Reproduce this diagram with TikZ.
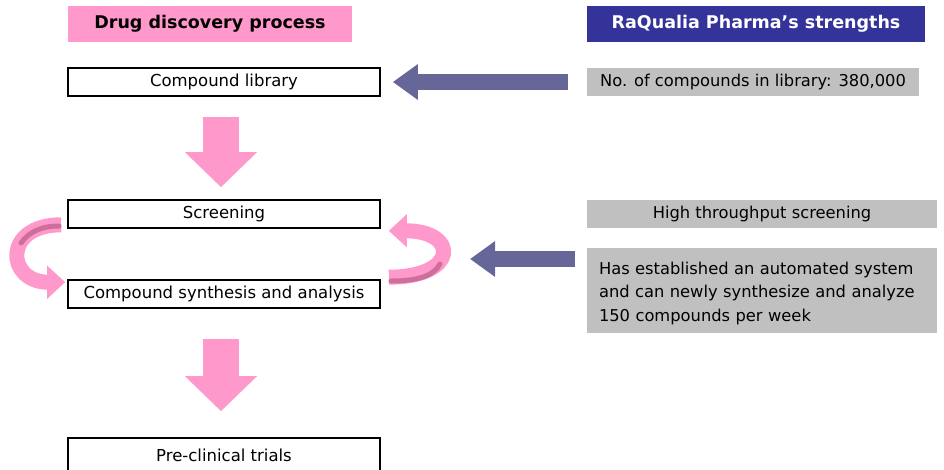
\documentclass[tikz,border=0pt]{standalone}
\usepackage{fontspec}
\setmainfont{DejaVu Sans}
\usetikzlibrary{arrows.meta,positioning}
\definecolor{hdpink}{RGB}{255,153,204}
\definecolor{hdblue}{RGB}{51,51,153}
\definecolor{arrblue}{RGB}{102,102,153}
\definecolor{boxgray}{RGB}{192,192,192}
\definecolor{bandpink}{RGB}{205,110,155}

\begin{document}
\begin{tikzpicture}[x=1pt,y=-1pt,
    hdbox/.style={minimum height=36pt,inner sep=0pt,font=\bfseries\fontsize{17.5}{20}\selectfont},
    stage/.style={draw,line width=1.6pt,minimum width=312pt,minimum height=28pt,inner sep=0pt,
      font=\fontsize{16.5}{18}\selectfont},
    factbox/.style={fill=boxgray,minimum height=28pt,inner sep=0pt,font=\fontsize{16.3}{23.5}\selectfont},
    downarr/.style={hdpink,line width=36pt,-{Triangle[length=35pt,width=70pt]}},
    leftarr/.style={arrblue,line width=16pt,-{Triangle[length=25pt,width=34pt]}},
    cyclearr/.style={hdpink,line width=15pt,-{Triangle[length=18pt,width=32pt]}},
    ribbon/.style={bandpink,line width=5pt,line cap=round}]
  \useasboundingbox (0,0) rectangle (944,469);
  % headers
  \node[hdbox,fill=hdpink,minimum width=284pt] (drug) at (210,24) {Drug discovery process};
  \node[hdbox,fill=hdblue,text=white,minimum width=338pt] (raq) at (756,24) {RaQualia Pharma’s strengths};
  % process
  \node[stage] (lib) at (224,82) {Compound library};
  \node[stage] (screen) at (224,214) {Screening};
  \node[stage] (synth) at (224,294) {Compound synthesis and analysis};
  \node[stage,minimum height=34pt] (preclin) at (224,455) {Pre-clinical trials};
  % strengths
  \node[factbox,minimum width=332pt] (libsize) at (753,82) {No. of compounds in library: 380,000};
  \node[factbox,minimum width=350pt] (hts) at (762,214) {High throughput screening};
  \node[factbox,minimum width=350pt,minimum height=85pt,text width=326pt,align=left] (auto) at (762,290.5)
    {\rule{0pt}{18pt}Has established an automated system\\and can newly synthesize and analyze\\150 compounds per week};
  % arrows
  \draw[downarr,shorten <=20pt,shorten >=12pt] ([xshift=-3pt]lib.south) -- ([xshift=-3pt]screen.north);
  \draw[downarr,shorten <=30pt,shorten >=26pt] ([xshift=-3pt]synth.south) -- ([xshift=-3pt]preclin.north);
  \draw[leftarr,shorten <=19pt,shorten >=12pt] (libsize) -- (lib);
  \coordinate (loopR) at (447,259);
  \draw[leftarr,shorten <=12pt,shorten >=23pt] (auto.west |- loopR) -- (loopR);
  % cycle
  \draw[cyclearr] ([xshift=-6pt,yshift=4pt]screen.south west) .. controls +(-59,0) and +(-59,0)
    .. ([xshift=-2pt,yshift=-3pt]synth.north west);
  \draw[ribbon] (59,226) .. controls (40,226) and (28,233) .. (21,243);
  \draw[cyclearr] ([xshift=8pt,yshift=2pt]synth.north east) .. controls +(70,0) and +(70,0)
    .. ([xshift=8pt,yshift=-2pt]screen.south east);
  \draw[ribbon] (391,281) .. controls (415,281) and (433,277) .. (440,264);
\end{tikzpicture}
\end{document}
